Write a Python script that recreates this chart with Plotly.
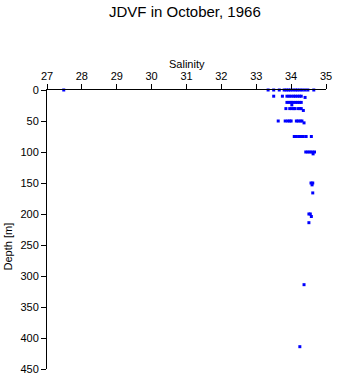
import plotly.graph_objects as go

title_text = "JDVF in October, 1966"
x_label = "Salinity"
y_label = "Depth [m]"

salinity = [
    27.48, 33.34, 33.50, 33.66, 33.80, 33.86, 33.92, 33.98, 34.05, 34.12, 34.18, 34.25, 34.32, 34.40, 34.48, 34.65,
    33.50, 33.75, 33.88, 33.94, 34.00, 34.07, 34.12, 34.18, 34.24, 34.29,
    34.40,
    33.88, 33.94, 34.00, 34.05, 34.12, 34.18, 34.24, 34.29,
    34.02,
    33.85, 33.96, 34.02, 34.08, 34.11, 34.20, 34.25, 34.29,
    34.35,
    33.63, 33.83, 33.90, 33.96, 34.00, 34.15, 34.20, 34.26, 34.31,
    34.37,
    34.09, 34.15, 34.22, 34.28, 34.35, 34.43, 34.58,
    34.42, 34.48, 34.54, 34.60, 34.67,
    34.63,
    34.57, 34.62,
    34.60,
    34.62,
    34.51, 34.55,
    34.58,
    34.51,
    34.37,
    34.25,
]
depth = (
    [0] * 16
    + [10] * 10
    + [12]
    + [20] * 8
    + [24]
    + [30] * 8
    + [33]
    + [50] * 9
    + [53]
    + [75] * 7
    + [100] * 5
    + [103]
    + [150] * 2
    + [153]
    + [166]
    + [200] * 2
    + [204]
    + [214]
    + [314]
    + [414]
)

font_family = "Liberation Sans, Arial, sans-serif"

fig = go.Figure()
fig.add_trace(go.Scatter(
    x=salinity, y=depth, mode="markers",
    marker=dict(symbol="square", size=3, color="#0000ff", line=dict(width=0)),
    cliponaxis=False, showlegend=False,
))

fig.update_layout(
    width=341, height=384,
    margin=dict(l=47, r=9, t=90, b=9),
    paper_bgcolor="white", plot_bgcolor="white",
    font=dict(family=font_family, size=11, color="black"),
    xaxis=dict(
        side="top", range=[27, 35], dtick=1, tick0=27,
        showline=True, linecolor="black", linewidth=1,
        ticks="outside", ticklen=5, tickcolor="black",
        showgrid=False, zeroline=False,
        tickfont=dict(size=11),
    ),
    yaxis=dict(
        range=[450, 0], dtick=50, tick0=0,
        showline=True, linecolor="black", linewidth=1,
        ticks="outside", ticklen=5, tickcolor="black",
        showgrid=False, zeroline=False,
        tickfont=dict(size=11),
    ),
    annotations=[
        dict(text=title_text, xref="paper", yref="paper", x=(188 - 47) / 285, y=(375 - 10) / 285,
             showarrow=False, font=dict(size=15), xanchor="center", yanchor="middle"),
        dict(text=x_label, xref="paper", yref="paper", x=(190 - 47) / 285, y=(375 - 63) / 285,
             showarrow=False, font=dict(size=11), xanchor="center", yanchor="middle"),
        dict(text=y_label, xref="paper", yref="paper", x=(7 - 47) / 285, y=(375 - 250) / 285,
             showarrow=False, font=dict(size=11), textangle=-90, xanchor="center", yanchor="middle"),
    ],
)

fig.write_html("out.html")
